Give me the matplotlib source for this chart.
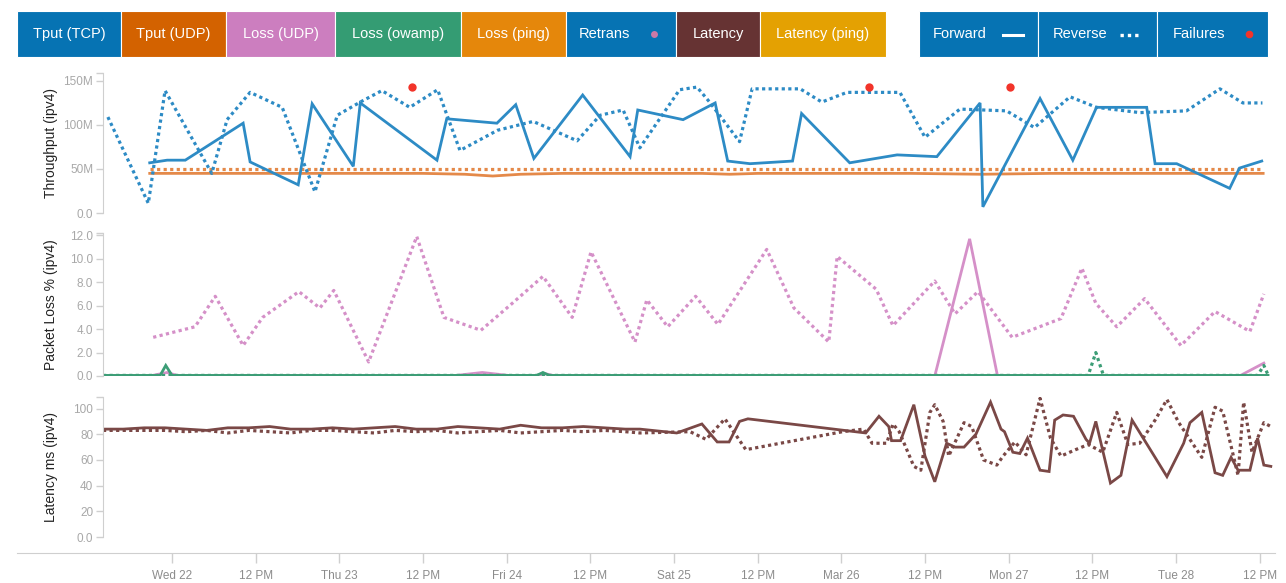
import matplotlib
matplotlib.use("Agg")
import matplotlib.pyplot as plt
from matplotlib.patches import Rectangle, FancyBboxPatch

plt.rcParams['font.family'] = ['Liberation Sans', 'DejaVu Sans']

# time is in hours since Mar 21 00:00
tick_hours = [24, 36, 48, 60, 72, 84, 96, 108, 120, 132, 144, 156, 168, 180]
tick_labels = ["Wed 22", "12 PM", "Thu 23", "12 PM", "Fri 24", "12 PM", "Sat 25",
               "12 PM", "Mar 26", "12 PM", "Mon 27", "12 PM", "Tue 28", "12 PM"]

# --- throughput (Mbps) ---
tcp_rev_h = [14.8, 20.6, 23.0, 29.7, 31.9, 35.2, 39.8, 44.5, 47.7, 51.0,
             54.1, 58.1, 62.1, 65.3, 70.7, 75.8, 82.1, 85.4, 88.7, 91.1,
             96.8, 99.3, 101.1, 105.4, 107.2, 114.1, 117.2, 120.8, 128.4, 132.0,
             137.0, 143.7, 147.7, 152.8, 156.6, 162.8, 169.5, 174.3, 177.6, 180.4]
tcp_rev = [109, 11, 139, 45, 106, 137, 120, 24, 111, 126,
           139, 120, 140, 71, 94, 104, 82, 111, 117, 74,
           140, 143, 126, 81, 141, 141, 126, 137, 137, 86,
           118, 116, 97, 132, 120, 114, 116, 141, 125, 125]

tcp_fwd_h = [20.8, 23.3, 25.9, 34.2, 35.2, 42.1, 44.1, 50.0, 51.0, 62.0,
             63.4, 70.6, 73.3, 75.9, 82.9, 89.7, 90.8, 97.3, 101.9, 103.7,
             106.9, 113.0, 114.3, 121.2, 128.0, 133.7, 139.9, 140.3, 148.5, 153.2,
             156.6, 163.8, 165.0, 168.1, 175.7, 177.1, 180.3]
tcp_fwd = [57, 60, 60, 102, 58, 32, 124, 53, 125, 60,
           107, 102, 123, 62, 134, 64, 117, 106, 125, 59,
           56, 59, 113, 57, 66, 64, 125, 7, 130, 60,
           120, 120, 56, 56, 28, 51, 59]

udp_fwd_h = [20.8, 30, 40, 50, 60, 66, 70, 74, 80, 90, 100, 104, 108, 120, 130, 140, 150, 160, 170, 180.5]
udp_fwd = [45, 45, 45, 45, 45, 44, 42, 44, 45, 45, 45, 44, 45, 45, 45, 44, 45, 45, 45, 45]
udp_rev_h = [20.8, 60, 100, 140, 180.5]
udp_rev = [50, 50, 50, 50, 50]

fail_h = [58.4, 124.0, 144.2]
fail_val = [143, 143, 143]

# --- packet loss (%) ---
loss_udp_rev_h = [21.3, 27.3, 30.2, 34.2, 37.0, 42.2, 45.2, 47.2, 52.2, 59.1,
                  63.0, 68.3, 72.8, 77.2, 81.4, 84.1, 90.4, 92.1, 95.1, 99.1,
                  102.3, 109.3, 113.2, 118.2, 119.4, 125.0, 127.4, 133.4, 136.3, 139.6,
                  144.5, 151.5, 154.5, 156.5, 159.5, 163.5, 168.7, 173.6, 178.6, 180.6]
loss_udp_rev = [3.3, 4.2, 6.8, 2.6, 5.0, 7.2, 5.8, 7.3, 1.2, 11.9,
                5.0, 3.9, 6.2, 8.5, 5.0, 10.6, 2.9, 6.5, 4.2, 6.8,
                4.4, 10.8, 5.8, 2.9, 10.2, 7.4, 4.3, 8.1, 5.3, 7.2,
                3.3, 4.9, 9.2, 6.2, 4.2, 6.6, 2.6, 5.5, 3.8, 7.0]
loss_udp_fwd_h = [20.8, 23.3, 25.0, 64.0, 68.5, 73.0, 76.0, 77.5, 79.0, 133.4, 138.4, 142.4, 177.1, 180.6]
loss_udp_fwd = [0.0, 0.3, 0.0, 0.0, 0.3, 0.0, 0.0, 0.2, 0.0, 0.0, 11.7, 0.0, 0.0, 1.1]

owamp_fwd_h = [14.1, 22.3, 23.1, 24.0, 76.3, 77.2, 78.1, 181.2]
owamp_fwd = [0.05, 0.05, 0.9, 0.05, 0.05, 0.3, 0.05, 0.05]
owamp_rev_h = [14.1, 155.4, 156.5, 157.6, 179.7, 180.6, 181.2]
owamp_rev = [0.05, 0.05, 2.0, 0.05, 0.05, 0.9, 0.1]

# --- latency (ms) ---
lat_fwd_h = [14.1, 17, 20, 23, 26, 29, 32, 35, 38, 41, 44, 47, 50, 53, 56, 59, 62, 65,
             68, 71, 74, 77, 80, 83, 86, 89, 91.1,
             96.4, 100.0, 102.2, 103.9, 105.4, 106.6, 123.5, 125.4, 126.8, 127.2,
             128.5, 130.4, 132.0, 133.4, 135.1, 136.3, 137.6, 139.3, 141.4, 142.9,
             143.4, 144.6, 145.6, 146.7, 148.5, 149.8, 150.6, 151.8, 153.3, 155.1,
             155.6, 156.5, 158.6, 160.1, 161.7, 165.0, 166.7, 169.1, 170.0, 171.7,
             173.6, 174.7, 175.9, 176.9, 178.6, 179.7, 180.6, 181.6]
lat_fwd = [84, 84, 85, 85, 84, 83, 85, 85, 86, 84, 84, 85, 84, 85, 86, 84, 84, 86,
           85, 84, 87, 85, 85, 86, 85, 84, 84,
           81, 88, 74, 74, 90, 92, 81, 94, 86, 75,
           75, 103, 63, 43, 73, 70, 70, 80, 105, 84,
           82, 66, 65, 77, 52, 51, 91, 95, 94, 76,
           73, 90, 42, 48, 91, 62, 47, 73, 89, 97,
           50, 48, 62, 52, 52, 77, 56, 55]
lat_rev_h = [14.1, 17, 20, 23, 26, 29, 32, 35, 38, 41, 44, 47, 50, 53, 56, 59, 62, 65,
             68, 71, 74, 77, 80, 83, 86, 89, 91.1,
             98.3, 100.6, 103.3, 106.3, 120.2, 123.2, 124.4, 126.5, 127.4, 128.3,
             130.4, 131.4, 132.7, 133.4, 134.6, 135.4, 137.6, 138.7, 140.4, 142.3,
             143.2, 144.9, 146.5, 148.5, 150.0, 151.5, 153.6, 155.4, 157.5, 159.5,
             161.1, 162.8, 165.0, 166.7, 168.4, 171.7, 173.6, 174.7, 176.9, 177.7,
             178.9, 180.6, 181.6]
lat_rev = [83, 83, 83, 83, 82, 83, 81, 83, 82, 81, 83, 83, 82, 81, 83, 82, 83, 81,
           82, 83, 81, 82, 83, 82, 83, 82, 81,
           82, 76, 92, 68, 82, 84, 73, 73, 88, 82,
           55, 52, 97, 103, 90, 63, 89, 86, 60, 56,
           63, 74, 64, 108, 77, 63, 68, 72, 66, 97,
           72, 73, 91, 107, 89, 62, 101, 98, 48, 105,
           66, 89, 86]

# legend bar
legend_labels = ["Tput (TCP)", "Tput (UDP)", "Loss (UDP)", "Loss (owamp)", "Loss (ping)",
                 "Retrans", "Latency", "Latency (ping)"]
legend_colors = ["#0673b3", "#d36200", "#cc7ebf", "#349c73", "#e5870b",
                 "#0673b3", "#663333", "#e4a102"]
style_labels = ["Forward", "Reverse", "Failures"]

BLUE = "#2d8bc5"
ORANGE = "#e27c35"
PINK = "#d590c8"
GREEN = "#3c9d76"
MAROON = "#7a4846"
AXIS_GRAY = "#cfcfcf"
TICK_GRAY = "#a8a8a8"

fig = plt.figure(figsize=(12.86, 5.83), dpi=100)

X0, X1 = 14.1, 182.2
left, width = 103 / 1286, 1172 / 1286
ax1 = fig.add_axes([left, 370 / 583, width, 140 / 583])
ax2 = fig.add_axes([left, 207 / 583, width, 143 / 583])
ax3 = fig.add_axes([left, 46 / 583, width, 140 / 583])

solid = dict(lw=2.0, solid_joinstyle="miter")
dotted = dict(lw=2.3, linestyle=(0, (1, 1.05)), dash_capstyle="butt")

ax1.plot(udp_fwd_h, udp_fwd, color=ORANGE, alpha=0.9, **solid)
ax1.plot(udp_rev_h, udp_rev, color=ORANGE, alpha=0.9, **dotted)
ax1.plot(tcp_rev_h, tcp_rev, color=BLUE, **dotted)
ax1.plot(tcp_fwd_h, tcp_fwd, color=BLUE, **solid)
ax1.plot(fail_h, fail_val, "o", color="#f2342a", ms=6, mec="none")

ax2.plot(loss_udp_rev_h, loss_udp_rev, color=PINK, **dotted)
ax2.plot(loss_udp_fwd_h, loss_udp_fwd, color=PINK, **solid)
ax2.plot(owamp_fwd_h, owamp_fwd, color=GREEN, **solid)
ax2.plot(owamp_rev_h, owamp_rev, color=GREEN, **dotted)

ax3.plot(lat_rev_h, lat_rev, color=MAROON, **dotted)
ax3.plot(lat_fwd_h, lat_fwd, color=MAROON, **solid)

panels = [
    (ax1, 159, [0, 50, 100, 150], ["0.0", "50M", "100M", "150M"], "Throughput (ipv4)"),
    (ax2, 12.2, [0, 2, 4, 6, 8, 10, 12], ["0.0", "2.0", "4.0", "6.0", "8.0", "10.0", "12.0"],
     "Packet Loss % (ipv4)"),
    (ax3, 109, [0, 20, 40, 60, 80, 100], ["0.0", "20", "40", "60", "80", "100"], "Latency ms (ipv4)"),
]
for ax, ymax, yt, ytl, ylab in panels:
    ax.set_xlim(X0, X1)
    ax.set_ylim(0, ymax)
    for s in ["top", "right", "bottom"]:
        ax.spines[s].set_visible(False)
    ax.spines["left"].set_color(AXIS_GRAY)
    ax.set_xticks([])
    ax.set_yticks(yt)
    ax.set_yticklabels(ytl)
    ax.set_yticks([ymax], minor=True)
    ax.tick_params(axis="y", which="both", colors=AXIS_GRAY, length=5, width=1,
                   labelcolor=TICK_GRAY, labelsize=8.5, pad=2)
    ax.set_ylabel(ylab, fontsize=10, color="#222222")
    ax.yaxis.set_label_coords(-0.038, 0.5)
    ax.patch.set_alpha(0)

# shared time axis at the bottom
axx = fig.add_axes([17 / 1286, 30 / 583, 1258 / 1286, 0.0001])
axx.set_xlim(X0 - 86 / 6.974, X1)
for s in ["top", "right", "left"]:
    axx.spines[s].set_visible(False)
axx.spines["bottom"].set_color(AXIS_GRAY)
axx.set_yticks([])
axx.set_xticks(tick_hours)
axx.set_xticklabels(tick_labels)
axx.tick_params(axis="x", colors=AXIS_GRAY, length=7, width=1, labelcolor="#8c8c8c",
                labelsize=8.5, pad=5)

# legend bar drawn in pixel space
bg = fig.add_axes([0, 0, 1, 1], zorder=5)
bg.set_xlim(0, 1286)
bg.set_ylim(583, 0)
bg.axis("off")
bg.patch.set_alpha(0)

edges = [17, 121, 226, 335, 461, 566, 676, 760, 886]
for i, (lab, col) in enumerate(zip(legend_labels, legend_colors)):
    x0, x1 = edges[i], edges[i + 1]
    bg.add_patch(Rectangle((x0, 11), x1 - x0, 46, facecolor=col, edgecolor="white", lw=0.8))
    if lab == "Retrans":
        bg.text(604, 34, lab, color="white", fontsize=10.5, ha="center", va="center")
        bg.plot([654], [34], "o", color="#cc79a7", ms=5, mec="none")
    else:
        bg.text((x0 + x1) / 2, 34, lab, color="white", fontsize=10.5, ha="center", va="center")

redges = [919, 1038, 1157, 1268]
for i, lab in enumerate(style_labels):
    x0, x1 = redges[i], redges[i + 1]
    bg.add_patch(Rectangle((x0, 11), x1 - x0, 46, facecolor="#0673b3", edgecolor="white", lw=0.8))
bg.text(960, 34, "Forward", color="white", fontsize=10.5, ha="center", va="center")
bg.plot([1003, 1023], [35, 35], color="white", lw=2.2)
bg.text(1080, 34, "Reverse", color="white", fontsize=10.5, ha="center", va="center")
bg.plot([1120, 1141], [35, 35], color="white", lw=2.4, linestyle=(0, (1, 1.2)))
bg.text(1199, 34, "Failures", color="white", fontsize=10.5, ha="center", va="center")
bg.plot([1249], [34], "o", color="#f2342a", ms=5.5, mec="none")

fig.savefig("out.png", dpi=100)
